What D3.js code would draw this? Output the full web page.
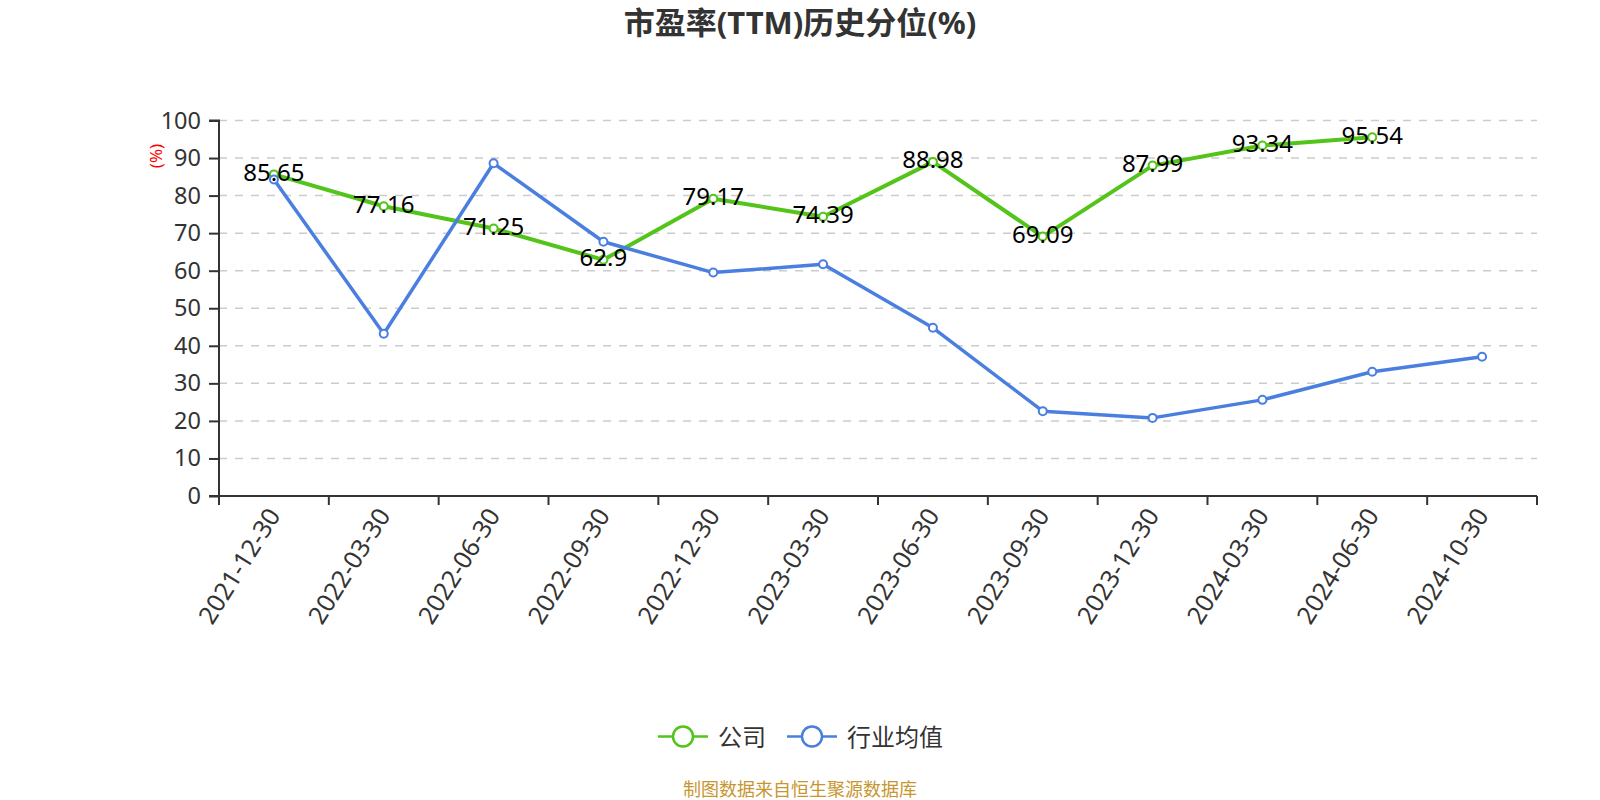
<!DOCTYPE html>
<html>
<head>
<meta charset="utf-8">
<script src="https://cdn.jsdelivr.net/npm/d3@7/dist/d3.min.js"></script>
<style>
  html, body { margin: 0; padding: 0; background: #fff; }
  svg { display: block; }
  text { font-family: "Noto Sans", "Noto Sans CJK SC", sans-serif; }
</style>
</head>
<body>
<svg id="chart" width="1600" height="800"></svg>
<script>
const categories = ["2021-12-30","2022-03-30","2022-06-30","2022-09-30","2022-12-30","2023-03-30","2023-06-30","2023-09-30","2023-12-30","2024-03-30","2024-06-30","2024-10-30"];
const companyValues = [85.65, 77.16, 71.25, 62.9, 79.17, 74.39, 88.98, 69.09, 87.99, 93.34, 95.54, null];
const industryValues = [84.3, 43.2, 88.6, 67.7, 59.5, 61.7, 44.8, 22.6, 20.8, 25.6, 33.1, 37.1];
const yTicks = [0, 10, 20, 30, 40, 50, 60, 70, 80, 90, 100];
const seriesNames = ["公司", "行业均值"];
const colors = ["#52c41a", "#4a7fe0"];
const titleText = "市盈率(TTM)历史分位(%)";
const sourceText = "制图数据来自恒生聚源数据库";

(function () {
const svg = d3.select("#chart");
const pLeft = 219, pRight = 1537, pTop = 120.5, pBottom = 496;

const x = d3.scaleBand().domain(categories).range([pLeft, pRight]).paddingInner(0).paddingOuter(0);
const y = d3.scaleLinear().domain([0, 100]).range([pBottom, pTop]);
const cx = d => x(d) + x.bandwidth() / 2;

// title
svg.append("text").attr("x", 800).attr("y", 22).attr("text-anchor", "middle")
  .attr("dominant-baseline", "central")
  .attr("font-size", 31).attr("font-weight", "bold").attr("fill", "#333")
  .attr("font-family", "'Noto Sans CJK SC', 'Noto Sans', sans-serif")
  .text(titleText);

// grid
svg.append("g").selectAll("line").data(yTicks.filter(t => t > 0)).join("line")
  .attr("x1", pLeft).attr("x2", pRight)
  .attr("y1", d => y(d)).attr("y2", d => y(d))
  .attr("stroke", "#cccccc").attr("stroke-width", 1.5).attr("stroke-dasharray", "8,8");

// y axis
const yAxis = d3.axisLeft(y).tickValues(yTicks).tickSize(10).tickPadding(8).tickFormat(d3.format("d"));
const gy = svg.append("g").attr("transform", `translate(${pLeft},0)`).call(yAxis);
gy.select(".domain").attr("stroke", "#333").attr("stroke-width", 2).attr("d", `M-10,${pTop}H0V${pBottom}H-10`);
gy.selectAll(".tick line").attr("stroke", "#333").attr("stroke-width", 2);
gy.selectAll(".tick text").attr("font-size", 23.5).attr("fill", "#333")
  .attr("font-family", "'Noto Sans', sans-serif");

// y axis name
svg.append("text").attr("transform", `translate(155,156) rotate(-90)`)
  .attr("text-anchor", "middle").attr("dominant-baseline", "central")
  .attr("font-size", 17).attr("fill", "red").text("(%)");

// x axis
const gx = svg.append("g").attr("transform", `translate(0,${pBottom})`);
gx.append("line").attr("x1", pLeft).attr("x2", pRight).attr("y1", 0).attr("y2", 0)
  .attr("stroke", "#333").attr("stroke-width", 2);
const boundaries = categories.map(c => x(c)).concat([x(categories[categories.length - 1]) + x.bandwidth()]);
gx.selectAll("line.tk").data(boundaries).join("line").attr("class", "tk")
  .attr("x1", d => d).attr("x2", d => d).attr("y1", 0).attr("y2", 9)
  .attr("stroke", "#333").attr("stroke-width", 2);
gx.selectAll("text").data(categories).join("text")
  .attr("transform", d => `translate(${cx(d) - 1},14) rotate(-58)`)
  .attr("text-anchor", "end").attr("dominant-baseline", "central")
  .attr("font-size", 25).attr("fill", "#333").text(d => d);

// lines
const allSeries = [companyValues, industryValues];
allSeries.forEach((vals, i) => {
  const pts = categories.map((c, j) => ({ c, v: vals[j] })).filter(p => p.v !== null);
  const line = d3.line().x(p => cx(p.c)).y(p => y(p.v));
  svg.append("path").datum(pts).attr("d", line).attr("fill", "none")
    .attr("stroke", colors[i]).attr("stroke-width", i === 0 ? 4 : 3.5)
    .attr("stroke-linejoin", "round");
  svg.append("g").selectAll("circle").data(pts).join("circle")
    .attr("cx", p => cx(p.c)).attr("cy", p => y(p.v)).attr("r", 4)
    .attr("fill", "#fff").attr("stroke", colors[i]).attr("stroke-width", 2);
});

// labels for company
const labPts = categories.map((c, j) => ({ c, v: companyValues[j] })).filter(p => p.v !== null);
svg.append("g").selectAll("text").data(labPts).join("text")
  .attr("x", p => cx(p.c)).attr("y", p => y(p.v) - 3)
  .attr("text-anchor", "middle").attr("dominant-baseline", "central")
  .attr("font-size", 24).attr("fill", "#000").text(p => p.v);

// legend
const legend = [
  { name: seriesNames[0], color: colors[0], x0: 658, tx: 718 },
  { name: seriesNames[1], color: colors[1], x0: 787, tx: 847 }
];
const ly = 736.5;
legend.forEach(l => {
  svg.append("line").attr("x1", l.x0).attr("x2", l.x0 + 50).attr("y1", ly).attr("y2", ly)
    .attr("stroke", l.color).attr("stroke-width", 2.5);
  svg.append("circle").attr("cx", l.x0 + 25).attr("cy", ly).attr("r", 10)
    .attr("fill", "#fff").attr("stroke", l.color).attr("stroke-width", 2.5);
  svg.append("text").attr("x", l.tx).attr("y", ly).attr("dominant-baseline", "central")
    .attr("font-size", 24).attr("fill", "#333")
    .attr("font-family", "'Noto Sans CJK SC', sans-serif").text(l.name);
});

// source
svg.append("text").attr("x", 800).attr("y", 789).attr("text-anchor", "middle")
  .attr("dominant-baseline", "central").attr("font-size", 18).attr("fill", "#c8962e")
  .attr("font-family", "'Noto Sans CJK SC', sans-serif").text(sourceText);
})();
</script>
</body>
</html>
